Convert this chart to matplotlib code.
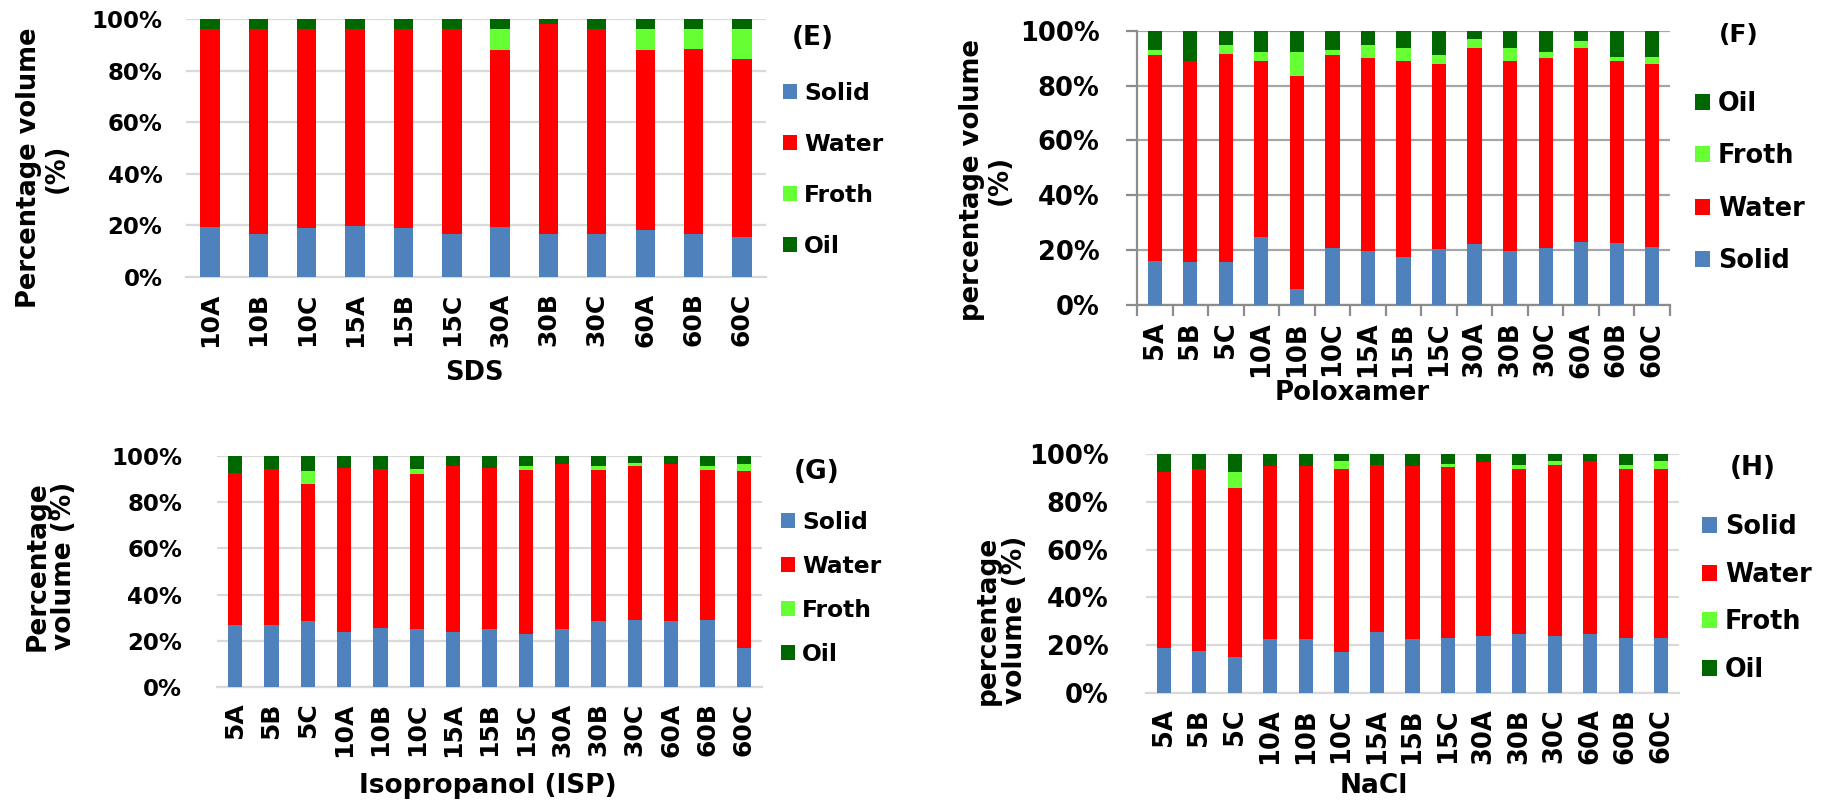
import matplotlib
matplotlib.use("Agg")
import matplotlib.pyplot as plt
from matplotlib.ticker import FuncFormatter, FixedLocator
import numpy as np

plt.rcParams['font.family'] = ['DejaVu Sans']
plt.rcParams['font.weight'] = 'bold'

# ---------------- data ----------------
series_names = ['Solid', 'Water', 'Froth', 'Oil']
colors = {'Solid': '#4F81BD', 'Water': '#FF0000', 'Froth': '#66FF33', 'Oil': '#006600'}

E_cats = ['10A', '10B', '10C', '15A', '15B', '15C', '30A', '30B', '30C', '60A', '60B', '60C']
E_solid = [19.4, 16.8, 18.9, 19.9, 18.9, 16.8, 19.4, 16.8, 16.8, 18.3, 16.8, 15.4]
E_water = [76.7, 79.3, 77.2, 76.2, 77.2, 79.3, 68.7, 81.4, 79.3, 69.8, 71.7, 69.2]
E_froth = [0, 0, 0, 0, 0, 0, 8.0, 0, 0, 8.0, 7.6, 11.5]
E_oil = [3.9, 3.9, 3.9, 3.9, 3.9, 3.9, 3.9, 1.8, 3.9, 3.9, 3.9, 3.9]

cats15 = ['5A', '5B', '5C', '10A', '10B', '10C', '15A', '15B', '15C',
          '30A', '30B', '30C', '60A', '60B', '60C']

F_solid = [16.0, 15.6, 15.6, 24.9, 5.8, 20.8, 19.8, 17.5, 20.3, 22.1, 19.8, 20.8, 23.1, 22.6, 21.1]
F_water = [75.0, 73.5, 75.9, 64.2, 77.7, 70.2, 70.2, 71.6, 67.4, 71.7, 69.3, 69.2, 70.7, 66.5, 66.6]
F_froth = [2.0, 0, 3.3, 3.2, 8.8, 2.0, 4.8, 4.7, 3.3, 3.3, 4.7, 2.3, 2.3, 1.4, 2.8]
F_oil = [7.0, 10.9, 5.2, 7.7, 7.7, 7.0, 5.2, 6.2, 9.0, 2.9, 6.2, 7.7, 3.9, 9.5, 9.5]

G_solid = [26.7, 26.7, 28.4, 23.9, 25.6, 25.1, 23.9, 25.1, 22.9, 25.1, 28.4, 29.0, 28.4, 29.0, 16.7]
G_water = [66.1, 67.7, 59.5, 71.1, 68.8, 67.1, 71.6, 69.9, 71.0, 71.6, 65.5, 66.5, 68.3, 64.9, 76.7]
G_froth = [0, 0, 5.5, 0, 0, 2.2, 0, 0, 1.6, 0, 1.6, 1.6, 0, 1.6, 3.3]
G_oil = [7.2, 5.6, 6.6, 5.0, 5.6, 5.6, 4.5, 5.0, 4.5, 3.3, 4.5, 2.9, 3.3, 4.5, 3.3]

H_solid = [18.8, 17.7, 15.0, 22.5, 22.5, 17.2, 25.7, 22.5, 23.1, 24.1, 24.6, 24.1, 24.6, 23.1, 23.1]
H_water = [73.4, 75.9, 70.8, 72.4, 72.4, 76.4, 69.7, 72.4, 71.2, 72.3, 69.0, 71.2, 72.3, 70.5, 70.5]
H_froth = [0, 0, 6.4, 0, 0, 3.3, 0, 0, 1.5, 0, 1.7, 1.6, 0, 1.7, 3.3]
H_oil = [7.8, 6.4, 7.8, 5.1, 5.1, 3.1, 4.6, 5.1, 4.2, 3.6, 4.7, 3.1, 3.1, 4.7, 3.1]

yticks = [0, 20, 40, 60, 80, 100]

# ---------------- figure ----------------
W, H = 1833, 800
fig = plt.figure(figsize=(W / 100, H / 100), dpi=100)


def fx(x):
    return x / W


def fy(y):
    return 1 - y / H


def panel(box, cats, data, xlabel, xlab_pos, ylabel, ylab_pos, letter, letter_pos,
          leg_order, leg_pos, fs_ytick, fs_xtick, fs_lab, fs_leg, fs_letter,
          leg_spacing, excel2007=False, xpad=11, ypad=17):
    x0, y0, x1, y1 = box
    ax = fig.add_axes([fx(x0), fy(y1), (x1 - x0) / W, (y1 - y0) / H])
    x = np.arange(len(cats))
    bottom = np.zeros(len(cats))
    handles = {}
    for name, vals in zip(series_names, data):
        vals = np.array(vals, dtype=float)
        b = ax.bar(x, vals, width=0.4, bottom=bottom, color=colors[name],
                   linewidth=0, label=name, zorder=3)
        handles[name] = b
        bottom = bottom + vals
    ax.set_xlim(-0.5, len(cats) - 0.5)
    ax.set_ylim(0, 100)
    ax.set_yticks(yticks)
    ax.yaxis.set_major_formatter(FuncFormatter(lambda v, p: f"{v:.0f}%"))
    ax.set_xticks(x)
    ax.set_xticklabels(cats, rotation=90, fontsize=fs_xtick, fontweight='bold')
    for lab in ax.get_yticklabels():
        lab.set_fontsize(fs_ytick)
        lab.set_fontweight('bold')
    ax.set_axisbelow(True)
    if excel2007:
        ax.yaxis.grid(True, color='#A6A6A6', linewidth=1.6, zorder=0)
        for s in ['top', 'right']:
            ax.spines[s].set_visible(False)
        for s in ['left', 'bottom']:
            ax.spines[s].set_color('#8C8C8C')
            ax.spines[s].set_linewidth(1.6)
        ax.tick_params(axis='y', length=8, width=1.6, color='#8C8C8C', pad=ypad - 8)
        ax.tick_params(axis='x', which='major', length=0, pad=xpad)
        ax.xaxis.set_minor_locator(FixedLocator(np.arange(-0.5, len(cats), 1.0)))
        ax.tick_params(axis='x', which='minor', length=8, width=1.6, color='#8C8C8C')
    else:
        ax.yaxis.grid(True, color='#D9D9D9', linewidth=1.6, zorder=0)
        for s in ['top', 'right', 'left']:
            ax.spines[s].set_visible(False)
        ax.spines['bottom'].set_color('#D9D9D9')
        ax.spines['bottom'].set_linewidth(1.6)
        ax.tick_params(axis='y', length=0, pad=ypad)
        ax.tick_params(axis='x', length=0, pad=xpad)

    fig.text(fx(xlab_pos[0]), fy(xlab_pos[1]), xlabel, fontsize=fs_lab,
             fontweight='bold', ha='center', va='center')
    fig.text(fx(ylab_pos[0]), fy(ylab_pos[1]), ylabel, fontsize=fs_lab,
             fontweight='bold', ha='center', va='center', rotation=90,
             multialignment='center', linespacing=1.05)
    fig.text(fx(letter_pos[0]), fy(letter_pos[1]), letter, fontsize=fs_letter,
             fontweight='bold', ha='center', va='center')
    hs = [handles[n] for n in leg_order]
    ax.legend(hs, leg_order, loc='center left',
              bbox_to_anchor=(fx(leg_pos[0]), fy(leg_pos[1])),
              bbox_transform=fig.transFigure, frameon=False, borderpad=0,
              borderaxespad=0, handlelength=0.6, handleheight=0.6,
              handletextpad=0.3, labelspacing=leg_spacing,
              prop={'weight': 'bold', 'size': fs_leg})
    return ax


panel((186, 19.3, 766, 277), E_cats, [E_solid, E_water, E_froth, E_oil],
      'SDS', (474, 373), 'Percentage volume\n(%)', (43, 168), '(E)', (813, 38),
      ['Solid', 'Water', 'Froth', 'Oil'], (783, 170),
      16.5, 18, 18.5, 16.8, 19, 1.2)

panel((1137, 30.7, 1670, 305), cats15, [F_solid, F_water, F_froth, F_oil],
      'Poloxamer', (1352, 393), 'percentage volume\n(%)', (986, 180), '(F)', (1739, 35),
      ['Oil', 'Froth', 'Water', 'Solid'], (1695, 182.5),
      18.5, 18.5, 18.7, 18.4, 18, 1.03, excel2007=True, xpad=12, ypad=27)

panel((217, 456, 762, 687), cats15, [G_solid, G_water, G_froth, G_oil],
      'Isopropanol (ISP)', (488, 786), 'Percentage\nvolume (%)', (51, 566), '(G)', (817, 472),
      ['Solid', 'Water', 'Froth', 'Oil'], (781, 588.5),
      16.5, 18, 19, 16.8, 19, 0.9, xpad=11, ypad=25)

panel((1146, 453.7, 1679, 693.3), cats15, [H_solid, H_water, H_froth, H_oil],
      'NaCl', (1374, 786), 'percentage\nvolume (%)', (1001, 620), '(H)', (1753, 468),
      ['Solid', 'Water', 'Froth', 'Oil'], (1702, 598.5),
      18.5, 18.5, 19, 18.4, 19, 0.84, xpad=11, ypad=27)

fig.savefig('out.png', dpi=100)
